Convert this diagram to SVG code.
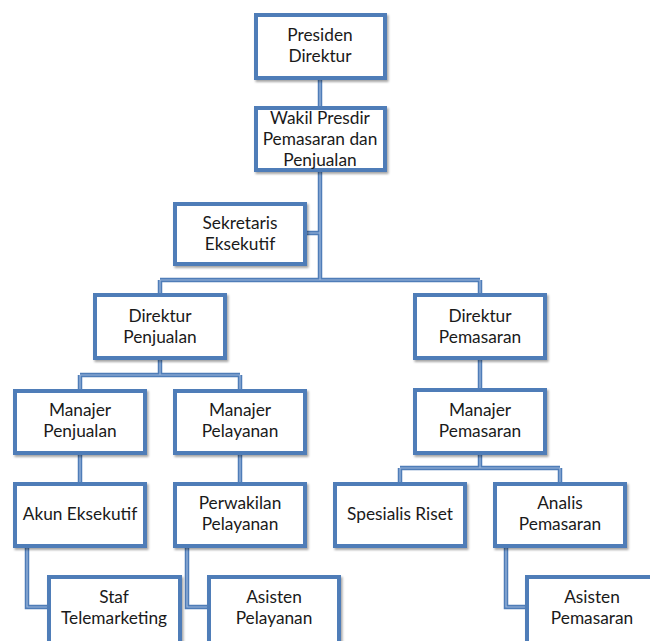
<svg xmlns="http://www.w3.org/2000/svg" width="650" height="641" viewBox="0 0 650 641">
<style>
.box rect{fill:#ffffff;stroke:#4f7db8;stroke-width:4;filter:url(#sh)}
.box text{font-family:Lato,"Open Sans","Liberation Sans",sans-serif;font-size:17.3px;fill:#1a1a1a;text-anchor:middle}
.c1{fill:none;stroke:#4f7db8;stroke-width:4.5}
.c2{fill:none;stroke:#9db8dc;stroke-width:1.2}
</style>
<defs>
<filter id="sh" x="-10%" y="-10%" width="125%" height="130%">
<feDropShadow dx="1.5" dy="2" stdDeviation="1.2" flood-color="#000" flood-opacity="0.35"/>
</filter>
</defs>
<rect width="650" height="641" fill="#ffffff"/>
<g id="connectors">
<path id="conn-path" class="c1" d="M320 80V106M320 172V280M307 233H320M160 280H480M160 280V293M480 280V293M160 360V375M80 375H240M80 375V389M240 375V389M480 360V388M80 455V482M240 455V482M480 455V468M400 468H560M400 468V482M560 468V482M27 548V607H47M187 548V607H207M506 548V607H525"/>
<path class="c2" d="M320 80V106M320 172V280M307 233H320M160 280H480M160 280V293M480 280V293M160 360V375M80 375H240M80 375V389M240 375V389M480 360V388M80 455V482M240 455V482M480 455V468M400 468H560M400 468V482M560 468V482M27 548V607H47M187 548V607H207M506 548V607H525"/>
</g>
<g id="n-presiden" class="box"><rect x="256" y="15" width="129" height="63"/><text x="320" y="41">Presiden</text><text x="320" y="62">Direktur</text></g>
<g id="n-wakil" class="box"><rect x="256" y="108" width="129" height="62"/><text x="320" y="124">Wakil Presdir</text><text x="320" y="145">Pemasaran dan</text><text x="320" y="166">Penjualan</text></g>
<g id="n-sekretaris" class="box"><rect x="175" y="204" width="130" height="60"/><text x="240" y="229">Sekretaris</text><text x="240" y="250">Eksekutif</text></g>
<g id="n-dirpenjualan" class="box"><rect x="95" y="295" width="130" height="63"/><text x="160" y="322">Direktur</text><text x="160" y="343">Penjualan</text></g>
<g id="n-dirpemasaran" class="box"><rect x="415" y="295" width="130" height="63"/><text x="480" y="322">Direktur</text><text x="480" y="343">Pemasaran</text></g>
<g id="n-manpenjualan" class="box"><rect x="15" y="391" width="130" height="62"/><text x="80" y="416">Manajer</text><text x="80" y="437">Penjualan</text></g>
<g id="n-manpelayanan" class="box"><rect x="175" y="391" width="130" height="62"/><text x="240" y="416">Manajer</text><text x="240" y="437">Pelayanan</text></g>
<g id="n-manpemasaran" class="box"><rect x="415" y="390" width="130" height="63"/><text x="480" y="416">Manajer</text><text x="480" y="437">Pemasaran</text></g>
<g id="n-akun" class="box"><rect x="15" y="484" width="130" height="62"/><text x="80" y="520">Akun Eksekutif</text></g>
<g id="n-perwakilan" class="box"><rect x="175" y="484" width="130" height="62"/><text x="240" y="509">Perwakilan</text><text x="240" y="530">Pelayanan</text></g>
<g id="n-spesialis" class="box"><rect x="335" y="484" width="130" height="62"/><text x="400" y="520">Spesialis Riset</text></g>
<g id="n-analis" class="box"><rect x="495" y="484" width="130" height="62"/><text x="560" y="509">Analis</text><text x="560" y="530">Pemasaran</text></g>
<g id="n-staf" class="box"><rect x="49" y="577" width="131" height="70"/><text x="114" y="603">Staf</text><text x="114" y="624">Telemarketing</text></g>
<g id="n-asistenpel" class="box"><rect x="209" y="577" width="130" height="70"/><text x="274" y="603">Asisten</text><text x="274" y="624">Pelayanan</text></g>
<g id="n-asistenpem" class="box"><rect x="527" y="577" width="131" height="70"/><text x="592" y="603">Asisten</text><text x="592" y="624">Pemasaran</text></g>
</svg>
